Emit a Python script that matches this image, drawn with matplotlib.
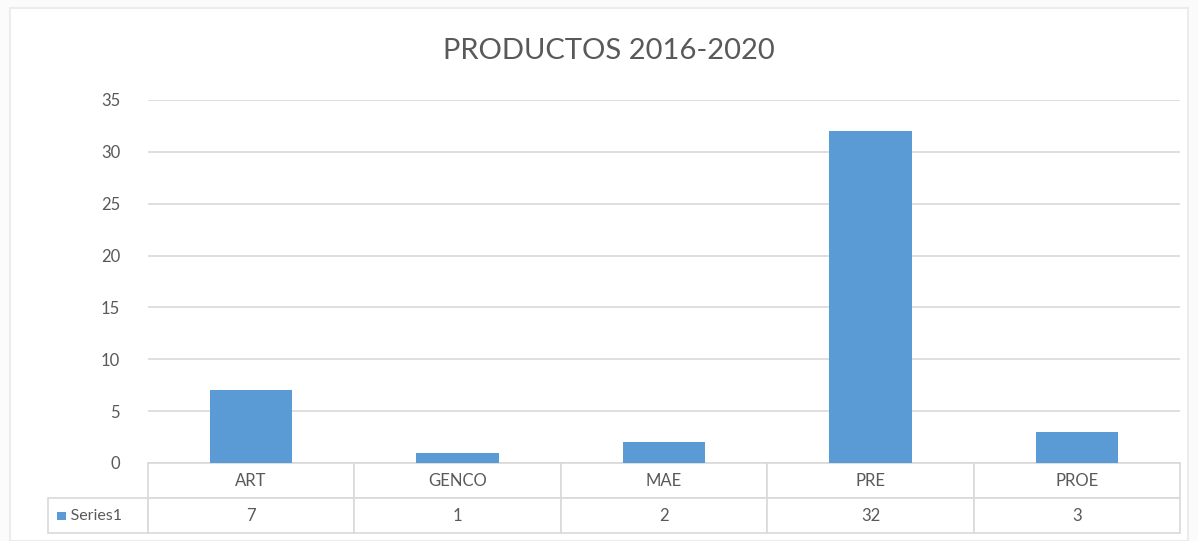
import matplotlib.pyplot as plt
from matplotlib.patches import Rectangle

plt.rcParams['font.family'] = ['Lato', 'DejaVu Sans']

categorias = ['ART', 'GENCO', 'MAE', 'PRE', 'PROE']
valores = [7, 1, 2, 32, 3]
serie = 'Series1'
titulo = 'PRODUCTOS 2016-2020'

azul = '#5b9bd5'
gris_texto = '#595959'
gris_linea = '#d9d9d9'

fig = plt.figure(figsize=(11.98, 5.41), dpi=100)
fig.patch.set_facecolor('#fbfbfb')
fig.patches.append(Rectangle((0.008, 0.0), 0.984, 0.985, transform=fig.transFigure,
                             facecolor='white', edgecolor='#ececec', lw=1.5, zorder=-1))

ax = fig.add_axes([0.1235, 0.1442, 0.8615, 0.6710])
ax.set_facecolor('none')
x = range(len(categorias))
ax.bar(x, valores, width=0.4, color=azul, zorder=3)

ax.set_xlim(-0.5, len(categorias) - 0.5)
ax.set_ylim(0, 35)
ax.set_yticks(range(0, 36, 5))
ax.yaxis.grid(True, color=gris_linea, lw=1.2)
ax.set_axisbelow(True)
for s in ax.spines.values():
    s.set_visible(False)
ax.tick_params(axis='y', length=0, pad=20, labelsize=12, labelcolor=gris_texto)
ax.tick_params(axis='x', length=0, labelbottom=False)

fig.text(0.508, 0.905, titulo, ha='center', va='center', fontsize=21, color=gris_texto)

# tabla de datos bajo el eje
ancho_leyenda = 100 / 1032
filas = [[''] + categorias, ['     ' + serie] + [str(v) for v in valores]]
tabla = ax.table(cellText=filas,
                 colWidths=[ancho_leyenda] + [1 / len(categorias)] * len(categorias),
                 bbox=[-ancho_leyenda, -0.193, 1 + ancho_leyenda, 0.193],
                 cellLoc='center')
tabla.auto_set_font_size(False)
for (f, c), celda in tabla.get_celld().items():
    celda.set_edgecolor(gris_linea)
    celda.set_linewidth(1.2)
    celda.get_text().set_color(gris_texto)
    celda.get_text().set_fontsize(12)
    if f == 0 and c == 0:
        celda.visible_edges = 'open'
    if f == 1 and c == 0:
        celda.get_text().set_ha('left')
        celda.PAD = 0.02
tabla[1, 0].get_text().set_fontsize(11.5)
ax.add_patch(Rectangle((-0.088, -0.158), 0.0085, 0.024, transform=ax.transAxes,
                       facecolor=azul, edgecolor='none', clip_on=False))

fig.savefig('out.png', dpi=100, facecolor=fig.get_facecolor())
